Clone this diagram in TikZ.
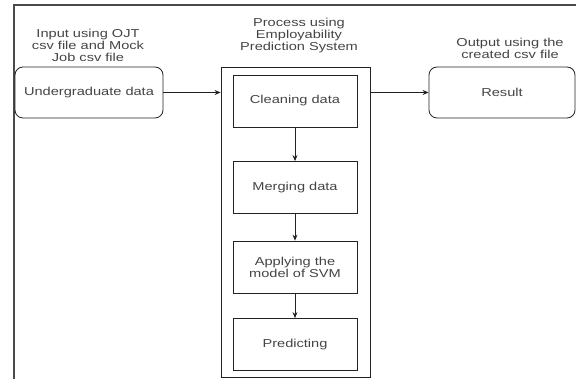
\documentclass[tikz,border=0pt]{standalone}
\usepackage{graphicx}
\usepackage{fontspec}
\setmainfont{Liberation Sans}
\usepackage{tikz}
\usetikzlibrary{arrows.meta}

\newcommand{\wide}[1]{\scalebox{1.27}[1]{#1}}
\definecolor{textgray}{HTML}{444444}
\definecolor{linegray}{HTML}{222222}
\definecolor{framegray}{HTML}{4A4A4A}

\tikzset{
  stepbox/.style={draw=linegray, line width=.8pt, inner sep=0pt,
    minimum width=124pt, minimum height=52pt, align=center},
  roundbox/.style={draw=linegray, line width=.8pt, rounded corners=8pt,
    inner sep=0pt, minimum height=51pt, align=center},
  caption/.style={align=center, inner sep=0pt},
  flow/.style={draw=linegray, line width=.8pt, -{Stealth[length=6pt,width=5pt]}}
}

\begin{document}
\begin{tikzpicture}[x=1pt, y=-1pt, font=\fontsize{11.5}{12}\selectfont, text=textgray]
    \useasboundingbox (0,0) rectangle (576,379);
    % Drawing frame part
    \draw [framegray, line width=2pt] (14,379) -- (14,5) -- (576,5);
    % Drawing titles
    \node [caption] (intitle) at (88,45)
      {\wide{Input using OJT}\\\wide{csv file and Mock}\\\wide{Job csv file}};
    \node [caption] (proctitle) at (299,36)
      {\wide{Process using}\\\wide{Employability}\\\wide{Prediction System}};
    \node [caption] (outtitle) at (510,48)
      {\wide{Output using the}\\\wide{created csv file}};
    % Drawing input, process and output
    \node [roundbox, minimum width=148pt] (ugdata) at (89,92.5) {\wide{Undergraduate data}};
    \node [draw=linegray, line width=.8pt, inner sep=0pt,
      minimum width=149pt, minimum height=310pt] (proc) at (295.5,222) {};
    \node [roundbox, minimum width=146pt] (result) at (502,92.5) {\wide{Result}};
    % Drawing steps inside the process
    \node [stepbox] (clean) at (295,101) {\wide{Cleaning data}};
    \node [stepbox] (merge) at (295,187.5) {\wide{Merging data}};
    \node [stepbox] (svm) at (295,267) {\wide{Applying the}\\\wide{model of SVM}};
    \node [stepbox] (pred) at (295,344.5) {\wide{Predicting}};
    % Drawing arrows
    \draw [flow] (ugdata.east) -- (ugdata.east -| proc.west);
    \draw [flow] (result.west -| proc.east) -- (result.west);
    \foreach \a/\b in {clean/merge, merge/svm, svm/pred}{
      \draw [flow] (\a) -- (\b);
    }
  \end{tikzpicture}
\end{document}
